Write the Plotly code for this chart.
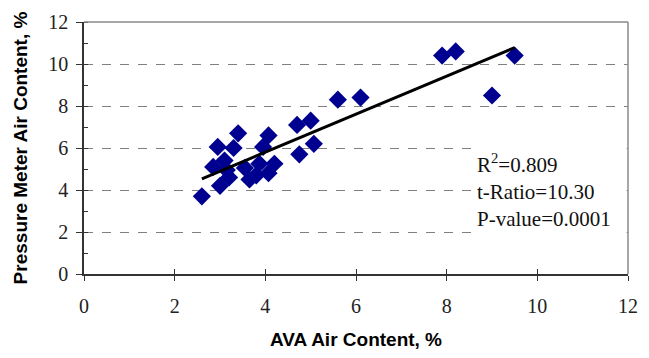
import plotly.graph_objects as go

# AVA vs. pressure meter air content (%)
ava_air = [2.6, 2.85, 2.95, 3.0, 3.1, 3.15, 3.2, 3.3, 3.4, 3.55, 3.65, 3.8,
           3.87, 3.95, 4.07, 4.07, 4.2, 4.7, 4.75, 5.0, 5.07, 5.6, 6.1,
           7.9, 8.2, 9.0, 9.5]
pressure_air = [3.7, 5.1, 6.05, 4.2, 5.4, 4.95, 4.6, 6.0, 6.7, 5.05, 4.5, 4.7,
                5.25, 6.05, 6.6, 4.8, 5.25, 7.1, 5.7, 7.3, 6.2, 8.3, 8.4,
                10.4, 10.6, 8.5, 10.4]

# Linear fit
fit_intercept = 2.18
fit_slope = 0.905
fit_x = [2.6, 9.5]
fit_y = [fit_intercept + fit_slope * v for v in fit_x]

stats_lines = ["R<sup>2</sup>=0.809", "t-Ratio=10.30", "P-value=0.0001"]

tick_vals = [0, 2, 4, 6, 8, 10, 12]
tick_text = [str(v) for v in tick_vals]

serif = "Liberation Serif, Times New Roman, serif"
sans = "Liberation Sans, Arial, sans-serif"

fig = go.Figure()
fig.add_trace(go.Scatter(
    x=ava_air, y=pressure_air, mode="markers",
    marker=dict(symbol="diamond", size=14, color="#000090",
                line=dict(width=0)),
    showlegend=False, hoverinfo="skip",
))
fig.add_trace(go.Scatter(
    x=fit_x, y=fit_y, mode="lines",
    line=dict(color="black", width=3),
    showlegend=False, hoverinfo="skip",
))
# helper trace so the overlaid tick axis is drawn
fig.add_trace(go.Scatter(x=[0], y=[0], xaxis="x2", mode="markers",
                         marker=dict(opacity=0), showlegend=False,
                         hoverinfo="skip"))

# white panel behind the statistics text
fig.add_shape(type="rect", xref="x", yref="y", x0=8.55, x1=11.97,
              y0=1.75, y1=6.3, fillcolor="white", line=dict(width=0),
              layer="between")

fig.add_annotation(
    x=8.62, y=4.0, xref="x", yref="y", xanchor="left", yanchor="middle",
    align="left", showarrow=False,
    text="<br>".join(stats_lines),
    font=dict(family=serif, size=21, color="#111111"),
)

fig.update_layout(
    width=649, height=358,
    margin=dict(l=84, r=11, t=15, b=80),
    paper_bgcolor="white", plot_bgcolor="white",
    xaxis=dict(
        range=[0, 12], tickvals=tick_vals, ticktext=tick_text,
        showgrid=False, zeroline=False,
        showline=True, linecolor="#333333", linewidth=1.5,
        ticks="outside", ticklen=5, tickcolor="#333333",
        ticklabelstandoff=8,
        tickfont=dict(family=serif, size=20, color="#222222"),
        title=dict(text="<b>AVA Air Content, %</b>",
                   font=dict(family=sans, size=19, color="black"),
                   standoff=17),
        mirror=False,
    ),
    xaxis2=dict(
        range=[0, 12], overlaying="x", side="bottom", anchor="y",
        tickvals=tick_vals, showticklabels=False, showgrid=False,
        zeroline=False, ticks="inside", ticklen=5, tickcolor="#333333",
        showline=False,
    ),
    yaxis=dict(
        range=[0, 12], tickvals=tick_vals, ticktext=tick_text,
        showgrid=True, gridcolor="#808080", griddash="dash", gridwidth=1,
        zeroline=False,
        showline=True, linecolor="#333333", linewidth=1.5,
        ticks="outside", ticklen=6, tickcolor="#333333",
        ticklabelstandoff=4,
        minor=dict(dtick=1, ticks="inside", ticklen=4, tickcolor="#333333",
                   showgrid=False),
        tickfont=dict(family=serif, size=20, color="#222222"),
        title=dict(text="<b>Pressure Meter Air Content, %</b>",
                   font=dict(family=sans, size=19, color="black"),
                   standoff=16),
    ),
)

# grey frame on the top and right sides
fig.add_shape(type="line", xref="paper", yref="paper", x0=0, x1=1, y0=1, y1=1,
              line=dict(color="#8a8a8a", width=1.5))
fig.add_shape(type="line", xref="paper", yref="paper", x0=1, x1=1, y0=0, y1=1,
              line=dict(color="#8a8a8a", width=1.5))

fig.write_html("out.html")
